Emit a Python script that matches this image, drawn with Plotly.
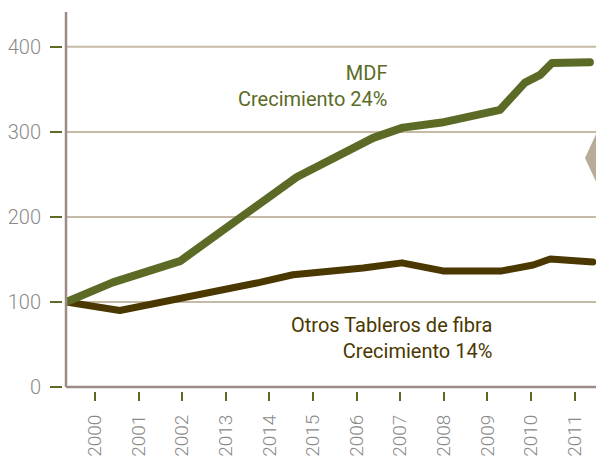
import plotly.graph_objects as go

# Tick labels (category order as printed on the chart)
year_labels = ["2000", "2001", "2002", "2013", "2014", "2015",
               "2006", "2007", "2008", "2009", "2010", "2011"]

# MDF series: positions along the year axis (index units) and values
mdf_x = [-0.665, 0.41, 1.95, 4.63, 6.38, 7.06, 7.95, 8.6, 9.29, 9.86, 10.21, 10.48, 11.35]
mdf_y = [100, 123, 148, 247, 293, 305, 311, 318, 326, 358, 367, 381, 382]

# Otros Tableros de fibra series
otros_x = [-0.665, 0.57, 3.78, 4.54, 6.15, 7.04, 7.98, 9.33, 10.05, 10.44, 11.42]
otros_y = [100, 90, 123, 132, 140, 146, 136.5, 136.5, 143.5, 150.5, 147]

MDF_C = "#5b6b26"
OTR_C = "#4a3800"
GRID_C = "#c6baa6"
AXIS_C = "#9c8b85"
LBL_C = "#8a8a8a"
FONT = "Roboto, sans-serif"

W, H = 596, 457
ML, MR, MT, MB = 40, 0, 12, 60
PW, PH = W - ML - MR, H - MT - MB

def px_x(p):
    return (p - ML) / PW

def px_y(p):
    return (H - MB - p) / PH

x_dom0 = px_x(66)
y_dom0 = px_y(387)

fig = go.Figure()
fig.add_trace(go.Scatter(x=otros_x, y=otros_y, mode="lines",
                         line=dict(color=OTR_C, width=7), hoverinfo="skip"))
fig.add_trace(go.Scatter(x=mdf_x, y=mdf_y, mode="lines",
                         line=dict(color=MDF_C, width=8), hoverinfo="skip"))

fig.update_layout(
    width=W, height=H,
    margin=dict(l=ML, r=MR, t=MT, b=MB, pad=0),
    paper_bgcolor="white", plot_bgcolor="white",
    showlegend=False,
    font=dict(family=FONT, color=LBL_C),
    xaxis=dict(
        domain=[x_dom0, 1], range=[-0.665, 11.49],
        anchor="free", position=px_y(391),
        tickmode="array", tickvals=list(range(len(year_labels))), ticktext=year_labels,
        tickangle=-90, ticks="outside", ticklen=9, tickwidth=2, tickcolor=MDF_C,
        tickfont=dict(size=19, color=LBL_C, family=FONT, weight=300),
        ticklabelstandoff=6,
        showgrid=False, zeroline=False, showline=False, automargin=False,
    ),
    yaxis=dict(
        domain=[y_dom0, 1], range=[0, 441],
        anchor="free", position=px_x(62),
        tickmode="array", tickvals=[0, 100, 200, 300, 400],
        ticks="outside", ticklen=12, tickwidth=2, tickcolor=MDF_C,
        tickfont=dict(size=20, color=LBL_C, family=FONT, weight=300),
        ticklabelstandoff=5,
        showgrid=False, zeroline=False, showline=False, automargin=False,
    ),
)

# gridlines at 100..400 (drawn from the axis to the right edge)
for v in [100, 200, 300, 400]:
    fig.add_shape(type="line", xref="paper", yref="y", x0=x_dom0, x1=1, y0=v, y1=v,
                  line=dict(color=GRID_C, width=2), layer="below")

# axis lines
fig.add_shape(type="line", xref="paper", yref="paper", x0=x_dom0, x1=x_dom0,
              y0=y_dom0, y1=1, line=dict(color=AXIS_C, width=2.5))
fig.add_shape(type="line", xref="paper", yref="paper", x0=x_dom0, x1=1,
              y0=y_dom0, y1=y_dom0, line=dict(color=AXIS_C, width=2.5))

# decorative tan marker at right edge
path = "M {},{} L {},{} L {},{} Z".format(
    px_x(585), px_y(158), px_x(597), px_y(132), px_x(597), px_y(184))
fig.add_shape(type="path", xref="paper", yref="paper", path=path,
              fillcolor="#b7ac98", line=dict(width=0))

fig.add_annotation(xref="paper", yref="paper", x=px_x(389), y=px_y(86),
                   xanchor="right", yanchor="middle", align="right", showarrow=False,
                   text="MDF<br>Crecimiento 24%",
                   font=dict(size=20, color=MDF_C, family=FONT, weight=400))
fig.add_annotation(xref="paper", yref="paper", x=px_x(494), y=px_y(338),
                   xanchor="right", yanchor="middle", align="right", showarrow=False,
                   text="Otros Tableros de fibra<br>Crecimiento 14%",
                   font=dict(size=20, color=OTR_C, family=FONT, weight=400))

post = (
    "document.body.style.margin='0';document.body.style.overflow='hidden';"
    "document.querySelectorAll('.scatterlayer path.js-line').forEach(function(p){"
    "p.style.strokeLinecap='round';p.style.strokeLinejoin='round';});"
)
fig.write_html("out.html", config={"displayModeBar": False}, post_script=post)
